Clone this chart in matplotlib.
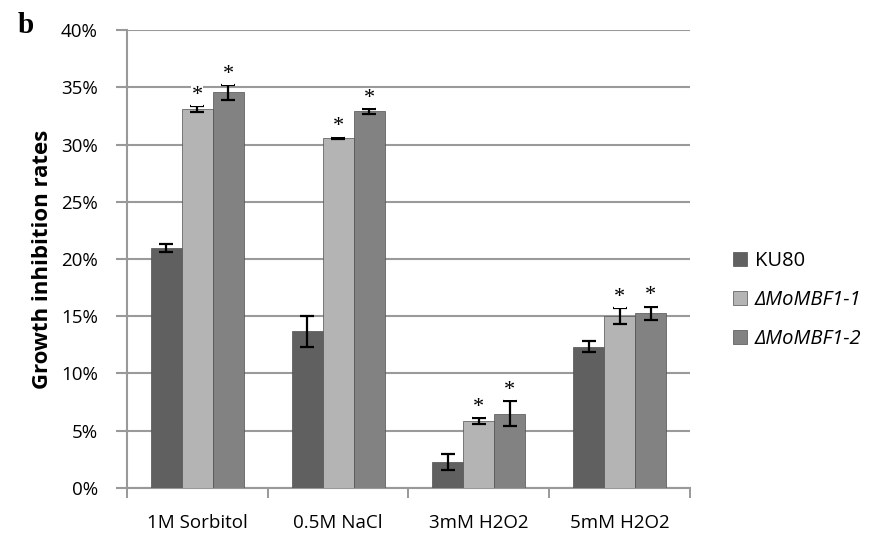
import numpy as np
import matplotlib
matplotlib.use("Agg")
import matplotlib.pyplot as plt
from matplotlib.ticker import PercentFormatter

# data (percent)
categories = ["1M Sorbitol", "0.5M NaCl", "3mM H2O2", "5mM H2O2"]
series = ["KU80", "ΔMoMBF1-1", "ΔMoMBF1-2"]
ku80 = [21.0, 13.7, 2.3, 12.35]
mbf1_1 = [33.1, 30.55, 5.85, 15.0]
mbf1_2 = [34.55, 32.9, 6.5, 15.25]
ku80_err = [0.35, 1.35, 0.7, 0.5]
mbf1_1_err = [0.22, 0.05, 0.25, 0.7]
mbf1_2_err = [0.62, 0.23, 1.1, 0.6]
# significance marks (asterisks) per series
signif = [False, True, True]

colors = ["#606060", "#b4b4b4", "#828282"]
font = ["Open Sans", "DejaVu Sans"]
fs = 13.5

fig = plt.figure(figsize=(8.83, 5.36), dpi=100)
ax = fig.add_axes([0.1438, 0.0896, 0.6376, 0.8544])

x = np.arange(len(categories))
w = 0.22
values = [ku80, mbf1_1, mbf1_2]
errs = [ku80_err, mbf1_1_err, mbf1_2_err]
handles = []
for i, (vals, err) in enumerate(zip(values, errs)):
    pos = x + (i - 1) * w
    b = ax.bar(pos, vals, w, color=colors[i], edgecolor="#505050",
               linewidth=0.5, zorder=3, label=series[i])
    handles.append(b)
    ax.errorbar(pos, vals, yerr=err, fmt="none", ecolor="black",
                elinewidth=1.6, capsize=5, capthick=1.6, zorder=4)
    #asterisks over the mutants
    if signif[i]:
        for p, v, e in zip(pos, vals, err):
            ax.text(p, v + e + 0.1, "*", ha="center", va="bottom",
                    fontsize=16, family="Liberation Serif", zorder=5,
                    bbox=dict(fc="white", ec="none", pad=0.3))

ax.set_xlim(-0.5, len(categories) - 0.5)
ax.set_ylim(0, 40)
ax.set_yticks(np.arange(0, 41, 5))
ax.yaxis.set_major_formatter(PercentFormatter(decimals=0))
ax.set_xticks(np.arange(-0.5, len(categories), 1.0), minor=False)
ax.set_xticklabels([])
ax.set_xticks(x, minor=True)
ax.set_xticklabels(categories, minor=True, fontsize=fs, family=font)
ax.tick_params(axis="x", which="minor", length=0, pad=19)
ax.tick_params(axis="x", which="major", length=7, color="#888888", width=1.2)
ax.tick_params(axis="y", length=8, color="#999999", width=1.5, pad=13,
               labelsize=fs)
for lab in ax.get_yticklabels():
    lab.set_family(font)

ax.grid(axis="y", color="#9a9a9a", linewidth=1.5, zorder=0)
ax.set_axisbelow(True)
for s in ["top", "right"]:
    ax.spines[s].set_visible(False)
ax.spines["left"].set_color("#999999")
ax.spines["left"].set_linewidth(1.5)
ax.spines["bottom"].set_color("#999999")
ax.spines["bottom"].set_linewidth(1.5)

ax.set_ylabel("Growth inhibition rates", fontsize=16, fontweight="bold",
              family=font, labelpad=6)

leg = fig.legend(handles=handles, labels=series, loc="center left",
                 bbox_to_anchor=(0.810, 0.44), frameon=False,
                 handlelength=0.7, handleheight=0.7, handletextpad=0.35,
                 labelspacing=0.95, prop={"family": font, "size": 14.5})
for i, t in enumerate(leg.get_texts()):
    if i > 0:
        t.set_style("italic")

fig.text(0.02, 0.952, "b", fontsize=21, fontweight="bold",
         family="Liberation Serif", va="center")

fig.savefig("out.png", dpi=100)
